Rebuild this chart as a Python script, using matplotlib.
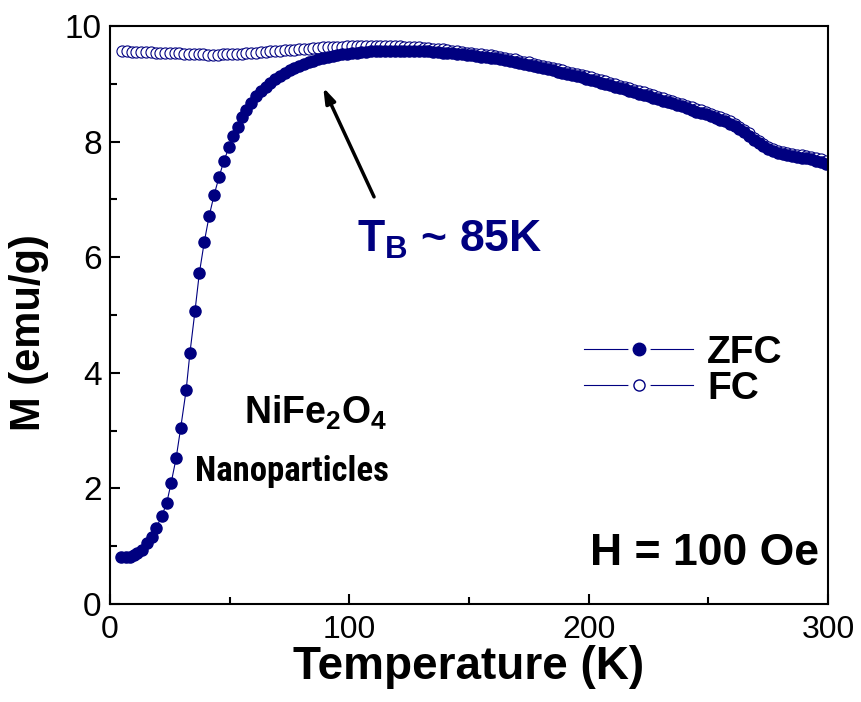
import matplotlib

matplotlib.use("Agg")
import matplotlib.pyplot as plt  # noqa: E402
from matplotlib.font_manager import FontProperties, findfont  # noqa: E402
from matplotlib.legend_handler import HandlerTuple  # noqa: E402
from matplotlib.lines import Line2D  # noqa: E402
from matplotlib.ticker import MultipleLocator  # noqa: E402

NAVY = "#000080"

# ZFC branch: temperature (K) and magnetisation (emu/g)
zfc_t = [4.5, 6.5, 8.4, 10.0, 11.1, 13.2, 15.3, 17.4, 19.2, 21.6, 23.7, 25.5,
         27.6, 29.5, 31.8, 33.4, 35.5, 37.3, 39.4, 41.4, 43.5, 45.5, 47.6,
         49.7, 51.5, 53.4, 55.0,
         57, 59, 61, 63, 65, 67, 69, 71, 73, 75, 77, 79, 81, 83, 85, 87, 89,
         91, 93, 95, 97, 99, 101, 103, 105, 107, 109, 111, 113, 115, 117, 119,
         121, 123, 125, 127, 129, 131, 133, 135, 137, 139, 141, 143, 145, 147,
         149, 151, 153, 155, 157, 159, 161, 163, 165, 167, 169, 171, 173, 175,
         177, 179, 181, 183, 185, 187, 189, 191, 193, 195, 197, 199, 201, 203,
         205, 207, 209, 211, 213, 215, 217, 219, 221, 223, 225, 227, 229, 231,
         233, 235, 237, 239, 241, 243, 245, 247, 249, 251, 253, 255, 257, 259,
         261, 263, 265, 267, 269, 271, 273, 275, 277, 279, 281, 283, 285, 287,
         289, 291, 293, 295, 297, 299]
zfc_m = [0.81, 0.81, 0.82, 0.85, 0.88, 0.93, 1.05, 1.16, 1.31, 1.52, 1.75, 2.09,
         2.52, 3.04, 3.70, 4.35, 5.07, 5.72, 6.27, 6.71, 7.08, 7.38, 7.67,
         7.90, 8.09, 8.26, 8.42,
         8.55, 8.67, 8.78, 8.87, 8.95, 9.02, 9.08, 9.14, 9.19, 9.23, 9.27,
         9.31, 9.34, 9.37, 9.40, 9.42, 9.44, 9.46, 9.48, 9.49, 9.51, 9.52,
         9.53, 9.54, 9.55, 9.55, 9.56, 9.56, 9.57, 9.57, 9.57, 9.57, 9.57,
         9.57, 9.57, 9.57, 9.56, 9.56, 9.56, 9.55, 9.55, 9.54, 9.54, 9.53,
         9.52, 9.51, 9.50, 9.49, 9.48, 9.47, 9.46, 9.45, 9.44, 9.42, 9.41,
         9.39, 9.38, 9.36, 9.34, 9.33, 9.31, 9.29, 9.27, 9.25, 9.23, 9.21,
         9.19, 9.17, 9.15, 9.13, 9.11, 9.09, 9.07, 9.05, 9.02, 9.00, 8.98,
         8.95, 8.93, 8.91, 8.88, 8.86, 8.83, 8.81, 8.78, 8.76, 8.73, 8.71,
         8.68, 8.66, 8.63, 8.61, 8.58, 8.55, 8.52, 8.50, 8.47, 8.44, 8.41,
         8.38, 8.35, 8.31, 8.27, 8.22, 8.16, 8.10, 8.03, 7.97, 7.92, 7.87,
         7.83, 7.80, 7.78, 7.76, 7.75, 7.73, 7.72, 7.71, 7.69, 7.67, 7.65,
         7.62]

# FC branch
fc_t = [5, 7, 9, 11, 13, 15, 17, 19, 21, 23, 25, 27, 29, 31, 33, 35, 37, 39,
        41, 43, 45, 47, 49, 51, 53, 55, 57, 59, 61, 63, 65, 67, 69, 71, 73, 75,
        77, 79, 81, 83, 85, 87, 89, 91, 93, 95, 97, 99, 101, 103, 105, 107,
        109, 111, 113, 115, 117, 119, 121, 123, 125, 127, 129, 131, 133, 135,
        137, 139, 141, 143, 145, 147, 149, 151, 153, 155, 157, 159, 161, 163,
        165, 167, 169, 171, 173, 175, 177, 179, 181, 183, 185, 187, 189, 191,
        193, 195, 197, 199, 201, 203, 205, 207, 209, 211, 213, 215, 217, 219,
        221, 223, 225, 227, 229, 231, 233, 235, 237, 239, 241, 243, 245, 247,
        249, 251, 253, 255, 257, 259, 261, 263, 265, 267, 269, 271, 273, 275,
        277, 279, 281, 283, 285, 287, 289, 291, 293, 295, 297, 299]
fc_m = [9.56, 9.56, 9.55, 9.55, 9.55, 9.55, 9.55, 9.54, 9.54, 9.54, 9.53,
        9.53, 9.53, 9.52, 9.52, 9.51, 9.51, 9.51, 9.50, 9.50, 9.50, 9.51,
        9.51, 9.51, 9.52, 9.52, 9.53, 9.53, 9.54, 9.55, 9.55, 9.56, 9.57,
        9.57, 9.58, 9.59, 9.59, 9.60, 9.61, 9.61, 9.62, 9.62, 9.63, 9.63,
        9.64, 9.64, 9.64, 9.65, 9.65, 9.65, 9.65, 9.66, 9.66, 9.66, 9.66,
        9.65, 9.65, 9.65, 9.65, 9.64, 9.64, 9.63, 9.63, 9.62, 9.62, 9.61,
        9.60, 9.60, 9.59, 9.57, 9.56, 9.55, 9.54, 9.53, 9.52, 9.51, 9.50,
        9.49, 9.48, 9.46, 9.45, 9.43, 9.42, 9.40, 9.38, 9.37, 9.35, 9.33,
        9.31, 9.29, 9.27, 9.25, 9.23, 9.21, 9.19, 9.17, 9.15, 9.13, 9.11,
        9.09, 9.06, 9.04, 9.02, 8.99, 8.97, 8.95, 8.92, 8.90, 8.87, 8.85,
        8.82, 8.80, 8.77, 8.75, 8.72, 8.70, 8.67, 8.65, 8.62, 8.59, 8.56,
        8.54, 8.51, 8.48, 8.45, 8.42, 8.39, 8.35, 8.31, 8.26, 8.20, 8.14,
        8.07, 8.01, 7.96, 7.91, 7.87, 7.84, 7.82, 7.80, 7.79, 7.77, 7.76,
        7.75, 7.73, 7.71, 7.69, 7.66]

SERIES = ["ZFC", "FC"]
X_TICKS = [0, 100, 200, 300]
Y_TICKS = [0, 2, 4, 6, 8, 10]

plt.rcParams["font.family"] = ["Liberation Sans", "DejaVu Sans"]
plt.rcParams["mathtext.fontset"] = "custom"
plt.rcParams["mathtext.bf"] = "Liberation Sans:bold"


def condensed_font():
    """First condensed bold face that is installed, else None."""
    for fam, stretch in [("Liberation Sans Narrow", "normal"),
                         ("Roboto Condensed", "normal"),
                         ("Open Sans Condensed", "normal"),
                         ("DejaVu Sans", "condensed")]:
        try:
            path = findfont(FontProperties(family=fam, weight="bold",
                                           stretch=stretch),
                            fallback_to_default=False)
        except ValueError:
            continue
        name = path.lower()
        if "narrow" in name or "condensed" in name:
            return FontProperties(fname=path)
    return None


cond = condensed_font()

fig = plt.figure(figsize=(8.61, 7.02), dpi=100)
ax = fig.add_axes([0.1278, 0.1396, 0.8339, 0.8234])

ax.plot(fc_t, fc_m, "-o", color=NAVY, lw=0.8, ms=8, mfc="white",
        mec=NAVY, mew=0.8)
ax.plot(zfc_t, zfc_m, "-o", color=NAVY, lw=0.8, ms=8, mfc=NAVY, mec=NAVY)

ax.set_xlim(0, 300)
ax.set_ylim(0, 10)
ax.set_xticks(X_TICKS)
ax.set_yticks(Y_TICKS)
ax.xaxis.set_minor_locator(MultipleLocator(50))
ax.yaxis.set_minor_locator(MultipleLocator(1))
ax.tick_params(which="both", direction="in", width=1.5, top=False, right=False)
ax.tick_params(which="major", length=7)
ax.tick_params(which="minor", length=5)
ax.tick_params(axis="x", labelsize=23, pad=8)
ax.tick_params(axis="y", labelsize=24, pad=6)
for s in ax.spines.values():
    s.set_linewidth(1.5)

ax.set_xlabel("Temperature (K)", fontsize=33, fontweight="bold", labelpad=0)
ax.set_ylabel("M (emu/g)", fontsize=30, fontweight="bold")
ax.yaxis.set_label_coords(-0.085, 0.47)

zfc_h = (Line2D([], [], color=NAVY, lw=0.8, marker="o", ms=15,
                mfc="white", mec="white"),
         Line2D([], [], ls="none", marker="o", ms=9, mfc=NAVY, mec=NAVY))
fc_h = (Line2D([], [], color=NAVY, lw=0.8, marker="o", ms=15,
               mfc="white", mec="white"),
        Line2D([], [], ls="none", marker="o", ms=8, mfc="white", mec=NAVY,
               mew=1))
ax.legend([zfc_h, fc_h], SERIES, loc="center left",
          bbox_to_anchor=(0.612, 0.403), frameon=False, numpoints=1,
          handler_map={tuple: HandlerTuple(ndivide=1)},
          handlelength=2.8, handletextpad=0.35, labelspacing=0.0,
          prop={"size": 28, "weight": "bold"})

ax.annotate("", xy=(88.6, 8.98), xytext=(110.8, 7.0),
            arrowprops=dict(arrowstyle="-|>,head_length=0.9,head_width=0.3",
                            color="black", lw=2.5))
ax.text(142, 6.3, r"T$_\mathbf{B}$ ~ 85K", color=NAVY, fontsize=32,
        fontweight="bold", ha="center", va="center")
ax.text(86, 3.3, r"NiFe$_\mathbf{2}$O$_\mathbf{4}$", fontsize=27,
        fontweight="bold", ha="center", va="center")
if cond is not None:
    ax.text(76, 2.3, "Nanoparticles", fontproperties=cond, fontsize=25,
            ha="center", va="center")
else:
    ax.text(76, 2.3, "Nanoparticles", fontsize=21, fontweight="bold",
            ha="center", va="center")
ax.text(0.988, 0.087, "H = 100 Oe", transform=ax.transAxes, fontsize=32,
        fontweight="bold", ha="right", va="center")

fig.savefig("out.png", dpi=100)
